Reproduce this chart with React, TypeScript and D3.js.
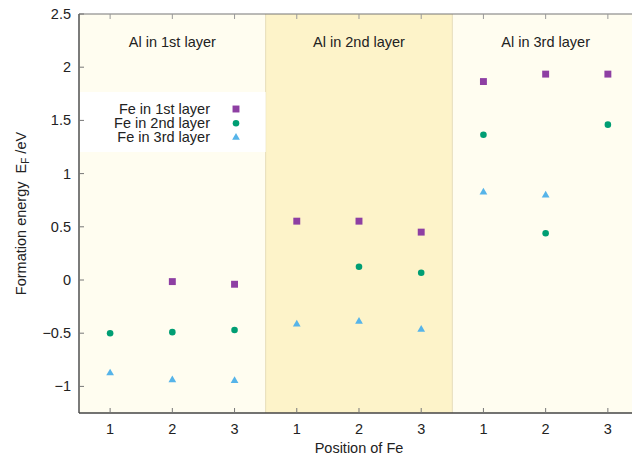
import * as d3 from "d3";
import { useEffect, useRef } from "react";

// Layer groups (Al position) and Fe position inside each group
const groups = ["Al in 1st layer", "Al in 2nd layer", "Al in 3rd layer"];
const positions = ["1", "2", "3"];
const yTicks = [-1, -0.5, 0, 0.5, 1, 1.5, 2, 2.5];

// Formation energies, 9 values: group 1 pos 1..3, group 2 pos 1..3, group 3 pos 1..3
const fe1st: (number | null)[] = [null, -0.015, -0.04, 0.553, 0.553, 0.45, 1.865, 1.935, 1.935];
const fe2nd: (number | null)[] = [-0.5, -0.49, -0.47, null, 0.125, 0.068, 1.365, 0.44, 1.46];
const fe3rd: (number | null)[] = [-0.875, -0.94, -0.947, -0.415, -0.39, -0.466, 0.825, 0.797, null];

const seriesNames = ["Fe in 1st layer", "Fe in 2nd layer", "Fe in 3rd layer"];
const seriesColors = ["#8e3fa3", "#009e73", "#56b4e9"];

export default function App() {
  const svgRef = useRef<SVGSVGElement | null>(null);

  useEffect(() => {
    if (!svgRef.current) return;
    const svg = d3.select(svgRef.current);
    svg.selectAll("*").remove();

    const width = 632;
    const height = 456;
    const left = 79;
    const top = 14;
    const bottom = 413;
    const font = "'Liberation Sans', Arial, sans-serif";
    const axisColor = "#444";
    const fs = "14.5px";

    const nPos = groups.length * positions.length;
    const x = d3
      .scaleLinear()
      .domain([-0.5, nPos - 0.5])
      .range([left, left + 62.22 * nPos]);
    const y = d3.scaleLinear().domain([-1.25, 2.5]).range([bottom, top]);

    svg.attr("width", width).attr("height", height);

    // Shaded group backgrounds
    svg
      .append("g")
      .selectAll("rect")
      .data(groups)
      .join("rect")
      .attr("x", (_, i) => x(i * 3 - 0.5))
      .attr("y", top)
      .attr("width", x(2.5) - x(-0.5))
      .attr("height", bottom - top)
      .attr("fill", (_, i) => (i === 1 ? "#fdf3c9" : "#fffdf0"));

    // Group separators
    svg
      .append("g")
      .selectAll("line")
      .data([1, 2])
      .join("line")
      .attr("x1", (d) => x(d * 3 - 0.5))
      .attr("x2", (d) => x(d * 3 - 0.5))
      .attr("y1", top)
      .attr("y2", bottom)
      .attr("stroke", "#e6dcb8")
      .attr("stroke-width", 1);

    // Legend box
    svg
      .append("rect")
      .attr("x", left + 1)
      .attr("y", 92)
      .attr("width", x(2.5) - left - 1)
      .attr("height", 60)
      .attr("fill", "#ffffff");

    // Group labels
    svg
      .append("g")
      .selectAll("text")
      .data(groups)
      .join("text")
      .attr("x", (_, i) => x(i * 3 + 1))
      .attr("y", 47)
      .attr("text-anchor", "middle")
      .attr("fill", "#222")
      .style("font-family", font)
      .style("font-size", fs)
      .text((d) => d);

    // Axes frame
    svg
      .append("line")
      .attr("x1", left)
      .attr("x2", width)
      .attr("y1", top)
      .attr("y2", top)
      .attr("stroke", "#777")
      .attr("stroke-width", 1.2);
    svg
      .append("line")
      .attr("x1", left)
      .attr("x2", width)
      .attr("y1", bottom)
      .attr("y2", bottom)
      .attr("stroke", axisColor)
      .attr("stroke-width", 1.4);
    svg
      .append("line")
      .attr("x1", left)
      .attr("x2", left)
      .attr("y1", top)
      .attr("y2", bottom)
      .attr("stroke", axisColor)
      .attr("stroke-width", 1.4);

    // Y ticks (inward) and labels
    const yg = svg.append("g");
    yg.selectAll("line")
      .data(yTicks)
      .join("line")
      .attr("x1", left)
      .attr("x2", left + 5)
      .attr("y1", (d) => y(d))
      .attr("y2", (d) => y(d))
      .attr("stroke", "#777");
    yg.selectAll("text")
      .data(yTicks)
      .join("text")
      .attr("x", 71)
      .attr("y", (d) => y(d) + 5)
      .attr("text-anchor", "end")
      .attr("fill", "#222")
      .style("font-family", font)
      .style("font-size", fs)
      .text((d) => d3.format("")(d).replace("-", "\u2212"));

    // X ticks (inward top & bottom) and labels
    const idx = d3.range(nPos);
    const xg = svg.append("g");
    xg.selectAll("line.b")
      .data(idx)
      .join("line")
      .attr("class", "b")
      .attr("x1", (d) => x(d))
      .attr("x2", (d) => x(d))
      .attr("y1", bottom)
      .attr("y2", bottom - 5)
      .attr("stroke", "#777");
    xg.selectAll("line.t")
      .data(idx)
      .join("line")
      .attr("class", "t")
      .attr("x1", (d) => x(d))
      .attr("x2", (d) => x(d))
      .attr("y1", top)
      .attr("y2", top + 5)
      .attr("stroke", "#999");
    xg.selectAll("text")
      .data(idx)
      .join("text")
      .attr("x", (d) => x(d))
      .attr("y", 434)
      .attr("text-anchor", "middle")
      .attr("fill", "#222")
      .style("font-family", font)
      .style("font-size", fs)
      .text((d) => positions[d % 3]);

    // Axis titles
    svg
      .append("text")
      .attr("x", x(4))
      .attr("y", 453)
      .attr("text-anchor", "middle")
      .attr("fill", "#222")
      .style("font-family", font)
      .style("font-size", fs)
      .text("Position of Fe");

    const yl = svg
      .append("text")
      .attr("transform", `translate(26,${(top + bottom) / 2}) rotate(-90)`)
      .attr("text-anchor", "middle")
      .attr("fill", "#222")
      .style("font-family", font)
      .style("font-size", fs)
      .style("white-space", "pre");
    yl.append("tspan").text("Formation energy  E");
    yl.append("tspan").attr("dy", 3).style("font-size", "10px").text("F");
    yl.append("tspan").attr("dy", -3).text(" /eV");

    // Markers
    const all = [fe1st, fe2nd, fe3rd];
    const symbols = [d3.symbolSquare, d3.symbolCircle, d3.symbolTriangle];
    const sizes = [48, 34, 26];
    all.forEach((vals, s) => {
      const pts = vals
        .map((v, i) => ({ i, v }))
        .filter((p) => p.v !== null) as { i: number; v: number }[];
      svg
        .append("g")
        .selectAll("path")
        .data(pts)
        .join("path")
        .attr("transform", (p) => `translate(${x(p.i)},${y(p.v)})`)
        .attr("d", d3.symbol(symbols[s], sizes[s])())
        .attr("fill", seriesColors[s]);
    });

    // Legend
    const lg = svg.append("g");
    seriesNames.forEach((name, s) => {
      const ly = 109 + s * 14.2;
      lg.append("text")
        .attr("x", 210)
        .attr("y", ly + 5)
        .attr("text-anchor", "end")
        .attr("fill", "#222")
        .style("font-family", font)
        .style("font-size", fs)
        .text(name);
      lg.append("path")
        .attr("transform", `translate(236,${ly})`)
        .attr("d", d3.symbol(symbols[s], sizes[s])())
        .attr("fill", seriesColors[s]);
    });
  }, []);

  return (
    <svg
      ref={svgRef}
      style={{ position: "absolute", left: 0, top: 0, display: "block" }}
    ></svg>
  );
}
